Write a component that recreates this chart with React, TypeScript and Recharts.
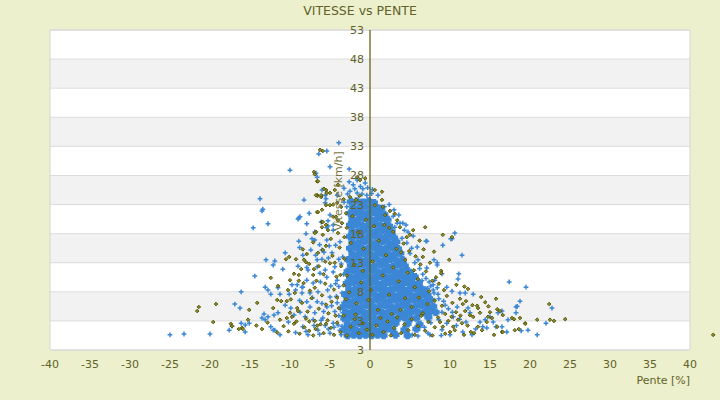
import { ScatterChart, Scatter, XAxis, YAxis, CartesianGrid, ReferenceLine, ReferenceArea } from 'recharts'

const W = 720
const H = 400
const MARGIN = { top: 30, right: 30, bottom: 16, left: 49 }
const PLOT_LEFT = 50
const ZERO_X = PLOT_LEFT + (W - PLOT_LEFT - MARGIN.right) / 2

const BG = '#ecf0cd'
const TEXT = '#616128'
const BLUE = '#3b87d6'
const OLIVE = '#55550a'

const X_TICKS = [-40, -35, -30, -25, -20, -15, -10, -5, 0, 5, 10, 15, 20, 25, 30, 35, 40]
const Y_TICKS = [-2, 3, 8, 13, 18, 23, 28, 33, 38, 43, 48, 53]
const Y_TICK_LABELS = ['3', '3', '8', '13', '18', '23', '28', '33', '38', '43', '48', '53']

// dense blue mass around 0 % (rows)
const blueCore: [number, number][] = [
  [-2.4, 23.5], [-1.65, 23.6], [-0.9, 23.4], [-0.15, 23.6], [0.5, 23.3],
  [-2.1, 22.5], [-1.35, 22.4], [-0.6, 22.6], [0.15, 22.5], [0.9, 22.4], [1.4, 22.3],
  [-2.5, 21.5], [-1.75, 21.6], [-1.0, 21.4], [-0.25, 21.5], [0.5, 21.6], [1.25, 21.4], [1.8, 21.3],
  [-2.2, 20.5], [-1.45, 20.4], [-0.7, 20.6], [0.05, 20.5], [0.8, 20.4], [1.55, 20.6], [2.2, 20.4],
  [-2.5, 19.5], [-1.75, 19.6], [-1.0, 19.4], [-0.25, 19.5], [0.5, 19.6], [1.25, 19.4], [2.0, 19.5], [2.4, 19.3],
  [-2.2, 18.5], [-1.45, 18.4], [-0.7, 18.6], [0.05, 18.5], [0.8, 18.4], [1.55, 18.6], [2.3, 18.5], [2.7, 18.3],
  [-2.5, 17.5], [-1.75, 17.6], [-1.0, 17.4], [-0.25, 17.5], [0.5, 17.6], [1.25, 17.4], [2.0, 17.5], [2.75, 17.6], [3.0, 17.3],
  [-2.2, 16.5], [-1.45, 16.4], [-0.7, 16.6], [0.05, 16.5], [0.8, 16.4], [1.55, 16.6], [2.3, 16.5], [3.05, 16.4], [3.3, 16.6],
  [-2.5, 15.5], [-1.75, 15.6], [-1.0, 15.4], [-0.25, 15.5], [0.5, 15.6], [1.25, 15.4], [2.0, 15.5], [2.75, 15.6], [3.5, 15.4],
  [-2.2, 14.5], [-1.45, 14.4], [-0.7, 14.6], [0.05, 14.5], [0.8, 14.4], [1.55, 14.6], [2.3, 14.5], [3.05, 14.4], [3.8, 14.6],
  [-2.7, 13.5], [-1.95, 13.6], [-1.2, 13.4], [-0.45, 13.5], [0.3, 13.6], [1.05, 13.4], [1.8, 13.5], [2.55, 13.6], [3.3, 13.4], [4.05, 13.5],
  [-2.4, 12.5], [-1.65, 12.4], [-0.9, 12.6], [-0.15, 12.5], [0.6, 12.4], [1.35, 12.6], [2.1, 12.5], [2.85, 12.4], [3.6, 12.6], [4.35, 12.5],
  [-2.8, 11.5], [-2.05, 11.6], [-1.3, 11.4], [-0.55, 11.5], [0.2, 11.6], [0.95, 11.4], [1.7, 11.5], [2.45, 11.6], [3.2, 11.4], [3.95, 11.5], [4.7, 11.6], [5.0, 11.3],
  [-2.5, 10.5], [-1.75, 10.4], [-1.0, 10.6], [-0.25, 10.5], [0.5, 10.4], [1.25, 10.6], [2.0, 10.5], [2.75, 10.4], [3.5, 10.6], [4.25, 10.5], [5.0, 10.4], [5.6, 10.6],
  [-2.9, 9.5], [-2.15, 9.6], [-1.4, 9.4], [-0.65, 9.5], [0.1, 9.6], [0.85, 9.4], [1.6, 9.5], [2.35, 9.6], [3.1, 9.4], [3.85, 9.5], [4.6, 9.6], [5.35, 9.4], [6.1, 9.5],
  [-2.6, 8.5], [-1.85, 8.4], [-1.1, 8.6], [-0.35, 8.5], [0.4, 8.4], [1.15, 8.6], [1.9, 8.5], [2.65, 8.4], [3.4, 8.6], [4.15, 8.5], [4.9, 8.4], [5.65, 8.6], [6.4, 8.5], [6.8, 8.3],
  [-3.1, 7.5], [-2.35, 7.6], [-1.6, 7.4], [-0.85, 7.5], [-0.1, 7.6], [0.65, 7.4], [1.4, 7.5], [2.15, 7.6], [2.9, 7.4], [3.65, 7.5], [4.4, 7.6], [5.15, 7.4], [5.9, 7.5], [6.65, 7.6], [7.2, 7.4],
  [-2.8, 6.5], [-2.05, 6.4], [-1.3, 6.6], [-0.55, 6.5], [0.2, 6.4], [0.95, 6.6], [1.7, 6.5], [2.45, 6.4], [3.2, 6.6], [3.95, 6.5], [4.7, 6.4], [5.45, 6.6], [6.2, 6.5], [6.95, 6.4], [7.6, 6.6],
  [-3.3, 5.5], [-2.55, 5.6], [-1.8, 5.4], [-1.05, 5.5], [-0.3, 5.6], [0.45, 5.4], [1.2, 5.5], [1.95, 5.6], [2.7, 5.4], [3.45, 5.5], [4.2, 5.6], [4.95, 5.4], [5.7, 5.5], [6.45, 5.6], [7.2, 5.4], [7.9, 5.5],
  [-3.0, 4.5], [-2.25, 4.4], [-1.5, 4.6], [-0.75, 4.5], [0.0, 4.4], [0.75, 4.6], [1.5, 4.5], [2.25, 4.4], [3.0, 4.6], [3.75, 4.5], [4.5, 4.4], [5.25, 4.6], [6.0, 4.5], [6.75, 4.4], [7.5, 4.6], [8.2, 4.5],
  [-3.2, 3.5], [-2.45, 3.6], [-1.7, 3.4], [-0.95, 3.5], [-0.2, 3.6], [0.55, 3.4], [1.3, 3.5], [2.05, 3.6], [2.8, 3.4], [3.55, 3.5], [4.3, 3.6], [5.05, 3.4], [5.8, 3.5], [7.3, 3.6],
  [-2.8, 2.5], [-2.05, 2.4], [-1.3, 2.6], [-0.55, 2.5], [0.2, 2.4], [0.95, 2.6], [1.7, 2.5], [2.45, 2.4], [3.2, 2.6], [4.7, 2.5], [6.2, 2.4],
  [-3.2, 1.5], [-2.45, 1.6], [-1.7, 1.4], [-0.95, 1.5], [-0.2, 1.6], [0.55, 1.4], [1.3, 1.5], [2.05, 1.6], [2.8, 1.4], [4.3, 1.5], [5.8, 1.6],
  [-2.8, 0.5], [-2.05, 0.6], [-1.3, 0.5], [-0.55, 0.6], [0.2, 0.5], [0.95, 0.6], [1.7, 0.5], [3.2, 0.6], [4.7, 0.5],
]

const blueLeft: [number, number][] = [
  [-13.75, 24.0], [-13.4, 22.2], [-13.5, 21.9], [-12.75, 19.7], [-14.6, 19.0], [-8.25, 23.8], [-7.6, 21.5],
  [-8.9, 20.7], [-9.0, 20.5], [-7.9, 19.7], [-8.0, 18.0], [-8.9, 16.7], [-7.25, 17.1], [-6.9, 18.3],
  [-10.6, 14.7], [-8.4, 14.3], [-13.0, 13.5], [-11.9, 13.3], [-12.1, 12.6], [-10.9, 11.9], [-9.0, 12.4],
  [-7.75, 11.75], [-14.4, 10.7], [-13.1, 8.8], [-12.75, 8.3], [-12.4, 7.6], [-11.25, 7.6], [-9.75, 9.2],
  [-16.1, 8.0], [-16.9, 5.9], [-16.25, 5.2], [-10.6, 5.7], [-13.25, 4.2], [-12.75, 3.7], [-12.0, 4.0],
  [-11.5, 4.4], [-16.1, 2.6], [-15.6, 2.3], [-15.1, 2.6], [-17.6, 1.4], [-15.6, 1.1], [-20.0, 0.75],
  [-23.25, 0.75], [-25.0, 0.6], [-17.25, 2.1], [-12.4, 2.0], [-11.9, 1.4], [-11.25, 0.6], [-13.1, 3.2],
  [-7.9, 10.0], [-8.4, 8.8], [-6.6, 13.5], [-6.6, 12.3], [-6.0, 13.6], [-5.75, 14.8], [-5.4, 16.9],
  [-5.5, 24.0], [-5.6, 23.3], [-5.0, 21.2], [-4.6, 18.6], [-5.25, 19.3], [-11.5, 8.7], [-10.1, 7.6],
  [-9.1, 9.2], [-8.5, 7.8], [-13.5, 3.5], [-12.1, 1.4], [-8.1, 3.7], [-7.5, 5.4], [-6.6, 6.3], [-8.75, 4.5],
  [-6.75, 28.4], [-6.6, 27.7], [-6.1, 20.0], [-6.9, 16.9], [-5.4, 19.0], [-4.6, 19.5], [-6.0, 15.2],
  [-4.75, 14.7], [-3.75, 16.6], [-3.4, 14.0], [-4.4, 12.3], [-5.6, 11.75], [-6.25, 11.2], [-7.1, 9.5],
  [-5.4, 10.5], [-4.1, 10.0], [-8.5, 8.8], [-7.5, 7.8], [-6.5, 8.0], [-5.0, 7.1], [-3.5, 7.8], [-7.9, 6.3],
  [-5.4, 5.4], [-4.1, 6.1], [-7.1, 3.2], [-5.9, 3.5], [-4.6, 2.6], [-3.4, 3.2], [-8.4, 2.0],
  [-6.5, 1.4], [-5.0, 0.9], [-3.75, 1.4], [-7.75, 0.6], [-9.3, 1.0], [-10.2, 2.8], [-6.9, 4.4],
  [-4.4, 4.6], [-3.7, 5.0], [-3.9, 8.9], [-3.3, 11.0], [-3.6, 12.8], [-4.9, 9.0], [-6.2, 9.7],
  [-4.2, 7.2], [-3.9, 3.9], [-4.5, 1.9], [-5.6, 2.2], [-6.3, 0.7], [-3.6, 0.6], [-4.8, 5.6], [-5.8, 4.6],
  [-8.8, 15.6], [-7.4, 15.2], [-6.3, 16.1], [-5.1, 15.9], [-4.3, 16.0], [-3.9, 13.6], [-4.6, 11.4],
  [-5.2, 13.8], [-6.8, 14.3], [-7.9, 12.2], [-7.2, 7.0], [-6.0, 6.0], [-5.3, 8.3], [-4.3, 9.4],
  [-3.3, 6.2], [-3.4, 4.4], [-5.2, 1.6], [-6.1, 3.1], [-7.0, 2.2], [-8.0, 1.2], [-9.5, 4.0], [-9.9, 5.2],
  [-8.8, 6.5], [-9.3, 8.3], [-4.0, 2.3], [-3.5, 2.1],
]

const blueTop: [number, number][] = [
  [-3.9, 33.6], [-5.4, 32.2], [-6.4, 31.7], [-10.0, 28.9], [-5.0, 29.5], [-8.75, 20.9], [-2.6, 29.1],
  [-2.6, 26.9], [-0.6, 26.7], [-0.9, 25.7], [-1.6, 27.2], [-2.1, 26.4], [-3.25, 25.8], [-2.5, 25.3],
  [-1.6, 25.0], [-4.1, 24.6], [1.5, 21.4], [2.9, 21.0], [2.25, 19.8], [3.4, 19.8], [3.1, 19.1],
  [-5.25, 20.2], [-3.25, 23.4], [-2.9, 22.6], [-5.6, 24.6], [-6.0, 25.5], [-0.4, 24.6], [0.3, 25.6],
  [1.0, 24.6], [2.4, 23.0], [1.8, 22.6], [3.0, 22.1], [3.6, 21.2], [4.5, 19.5], [5.4, 17.6],
  [-1.2, 26.1], [-0.3, 25.9], [-1.9, 25.7], [0.2, 24.9], [-2.8, 24.8], [-1.0, 24.8],
]

const blueRight: [number, number][] = [
  [10.6, 18.1], [10.1, 17.1], [7.0, 16.7], [9.1, 16.0], [11.5, 14.3], [8.4, 13.0], [8.4, 12.6],
  [8.0, 13.5], [7.1, 12.1], [11.1, 11.1], [11.0, 10.2], [9.0, 11.1], [8.1, 10.0], [7.4, 9.7],
  [17.4, 9.7], [19.5, 8.8], [7.6, 9.0], [7.9, 8.3], [8.4, 8.7], [9.6, 8.8], [10.25, 8.1], [12.9, 7.6],
  [11.9, 7.8], [18.75, 6.4], [18.25, 5.4], [18.4, 5.5], [22.75, 5.2], [16.5, 4.7], [16.0, 4.4],
  [18.25, 4.4], [17.25, 3.2], [17.1, 1.1], [22.0, 2.6], [20.9, 0.6], [19.75, 1.4], [18.9, 1.3],
  [15.4, 2.8], [15.75, 2.0], [13.75, 2.8], [14.4, 3.2], [12.75, 0.6], [11.6, 1.1], [10.4, 3.7],
  [10.9, 5.4], [9.4, 5.7], [9.0, 4.5], [7.5, 0.6], [7.25, 0.9], [12.25, 5.2], [12.5, 4.4], [14.1, 2.0],
  [14.6, 1.8], [16.5, 2.0], [15.0, 3.7], [3.75, 19.8], [4.1, 19.8], [4.75, 18.3], [5.2, 15.5],
  [5.9, 15.7], [7.1, 16.7], [10.25, 17.1], [6.0, 13.5], [5.6, 10.7], [5.0, 9.2], [7.9, 9.2],
  [11.25, 7.8], [8.5, 7.6], [7.5, 7.1], [4.3, 18.6], [4.0, 17.2], [4.6, 16.4], [5.0, 14.6], [5.6, 13.0],
  [6.2, 12.0], [6.6, 11.0], [7.0, 10.3], [6.5, 9.9], [7.2, 8.6], [8.0, 7.8], [8.6, 6.8], [9.2, 6.4],
  [9.8, 5.1], [10.3, 4.5], [11.2, 3.3], [9.6, 2.6], [10.8, 2.2], [12.0, 2.8], [13.2, 1.6], [9.0, 1.5],
  [10.0, 0.6], [8.6, 3.2], [8.9, 0.5], [6.8, 1.9], [7.6, 2.7], [5.3, 0.6], [6.0, 0.4],
]

const oliveLeft: [number, number][] = [
  [-21.6, 4.7], [-21.4, 5.4], [-19.25, 5.9], [-19.6, 2.8], [-17.4, 2.5], [-17.25, 2.1], [-16.4, 1.6],
  [-16.0, 1.8], [-15.9, 1.6], [-15.1, 4.9], [-15.25, 3.2], [-14.1, 6.1], [-12.4, 10.4], [-11.5, 9.0],
  [-10.25, 8.3], [-10.0, 10.0], [-11.6, 6.6], [-11.1, 6.4], [-10.4, 6.4], [-12.1, 5.2], [-9.4, 7.8],
  [-10.5, 13.6], [-10.1, 14.0], [-9.25, 13.6], [-7.9, 14.5], [-8.25, 13.5], [-8.0, 13.1], [-7.6, 12.8],
  [-7.0, 11.9], [-7.1, 10.9], [-8.9, 10.9], [-10.0, 4.4], [-9.75, 3.7], [-9.1, 5.2], [-9.0, 4.7],
  [-10.4, 3.5], [-11.25, 3.2], [-6.6, 24.6], [-6.1, 24.3], [-6.6, 27.0], [-6.0, 20.0], [-6.75, 18.3],
  [-6.5, 14.7], [-5.9, 15.2], [-5.5, 15.9], [-6.6, 21.7], [-6.9, 18.1],
  [-8.5, 6.1], [-7.8, 4.6], [-7.3, 6.9], [-6.9, 8.7], [-6.4, 5.1], [-6.0, 7.4], [-5.6, 9.4], [-5.2, 4.3],
  [-4.8, 6.3], [-4.5, 8.4], [-4.2, 10.6], [-3.9, 5.2], [-3.6, 12.4], [-3.3, 9.1], [-3.0, 6.7], [-5.0, 12.9],
  [-5.8, 11.0], [-6.7, 9.9], [-7.5, 8.2], [-8.3, 9.5], [-4.7, 14.2], [-3.8, 15.6], [-3.2, 17.4],
  [-4.0, 18.1], [-3.5, 19.8], [-3.0, 21.5], [-3.6, 22.6], [-4.9, 17.1], [-8.6, 11.9], [-9.5, 11.1],
  [-9.9, 6.7], [-8.0, 3.4], [-6.9, 3.0], [-5.5, 2.5], [-4.3, 3.9],
  [-8.4, 15.3], [-7.1, 16.5], [-5.6, 13.2], [-4.4, 13.0], [-3.7, 10.9], [-4.1, 7.0], [-5.5, 5.8],
  [-6.6, 2.2], [-7.6, 1.3], [-9.2, 2.9], [-8.9, 9.9], [-6.4, 12.4], [-3.2, 13.7], [-2.9, 19.0], [-3.3, 23.9],
]

const oliveTop: [number, number][] = [
  [-6.25, 32.4], [-5.9, 32.2], [-7.0, 28.6], [-6.9, 28.2], [-6.5, 27.0], [-6.6, 24.5], [-6.1, 24.6],
  [-5.5, 25.5], [-5.4, 25.0], [-0.6, 27.5], [0.6, 25.5], [1.5, 23.8], [1.6, 22.6], [1.9, 21.2],
  [2.4, 19.0], [2.9, 18.3], [-5.5, 22.9], [-5.0, 22.9], [-4.4, 25.5], [-4.0, 26.4], [-2.5, 24.3],
  [-1.75, 23.8], [-4.1, 23.3], [-5.9, 20.0], [-6.0, 19.1], [-6.5, 21.7], [-4.6, 20.9], [-5.75, 25.7],
  [-5.0, 25.0], [-6.75, 24.6], [-6.0, 22.1], [-4.6, 23.0], [-4.25, 20.9], [-4.0, 20.3], [-5.5, 19.5],
  [-5.25, 18.6], [-5.9, 17.8], [-1.6, 27.7], [-1.25, 27.2], [1.5, 25.2], [5.0, 17.8], [4.6, 17.4],
  [3.4, 20.3], [3.75, 19.1], [3.1, 21.4], [2.5, 21.9], [10.25, 17.4],
]

const oliveRight: [number, number][] = [
  [6.9, 19.1], [9.1, 17.8], [9.9, 13.5], [6.6, 14.0], [8.9, 11.6], [8.9, 11.2], [7.5, 13.0], [8.25, 10.5],
  [12.25, 8.5], [9.25, 8.3], [11.25, 6.8], [11.6, 5.9], [12.0, 6.4], [14.4, 6.2], [15.75, 6.8],
  [13.4, 5.6], [13.5, 5.2], [15.9, 5.0], [16.25, 4.7], [16.6, 4.0], [15.0, 4.5], [14.75, 3.7],
  [15.25, 3.5], [12.5, 4.0], [12.9, 3.7], [11.0, 3.2], [11.5, 2.6], [17.75, 3.5], [18.0, 3.3],
  [18.75, 3.5], [19.4, 2.6], [19.4, 2.5], [20.9, 3.2], [22.4, 5.9], [22.5, 3.2], [23.0, 3.0],
  [24.4, 3.3], [18.6, 1.6], [18.1, 1.4], [16.5, 1.1], [16.6, 1.1], [15.5, 0.6], [13.5, 2.0],
  [14.0, 1.4], [12.6, 1.1], [11.75, 0.6], [10.4, 2.0], [10.0, 1.1], [8.75, 2.8], [9.1, 2.0],
  [15.9, 2.0], [14.6, 2.8], [13.75, 4.4], [10.75, 4.5], [42.9, 0.6],
  [4.2, 16.3], [4.9, 15.0], [5.7, 14.1], [6.3, 12.7], [7.0, 11.5], [7.8, 9.9], [8.6, 9.4], [9.6, 7.3],
  [10.3, 6.1], [9.0, 5.6], [8.1, 6.5], [7.4, 8.1], [6.0, 10.2], [5.5, 11.7], [4.4, 13.5], [3.9, 14.8],
  [6.7, 15.3], [8.0, 14.9], [5.4, 18.6], [6.2, 16.8], [10.8, 9.2], [11.8, 8.9], [12.8, 5.7], [13.9, 7.1],
  [14.8, 5.5], [10.2, 3.7], [11.9, 4.7], [9.4, 4.2],
]

const oliveBottom: [number, number][] = [
  [-8.8, 0.8], [-8.2, 1.9], [-7.6, 2.9], [-7.1, 0.5], [-6.8, 1.6], [-6.2, 2.4], [-5.8, 0.9], [-5.3, 3.1],
  [-4.9, 1.8], [-4.5, 0.6], [-4.1, 2.7], [-3.7, 1.1], [-3.3, 3.9], [-2.9, 0.5], [-2.4, 2.0], [-1.9, 3.3],
  [-1.4, 0.9], [-0.9, 2.6], [-0.4, 1.5], [0.3, 0.6], [0.8, 2.2], [1.3, 3.5], [1.7, 1.1], [2.2, 2.9],
  [2.6, 0.5], [3.0, 1.8], [3.4, 3.6], [3.9, 0.9], [4.3, 2.4], [4.8, 1.4], [5.2, 3.3], [5.6, 0.6],
  [6.0, 2.1], [6.4, 3.9], [6.9, 1.3], [7.3, 2.8], [7.8, 0.5], [8.1, 1.9], [8.5, 3.6], [9.4, 0.8],
  [9.8, 3.0], [10.6, 1.4], [11.3, 3.9], [12.2, 2.2], [13.0, 0.9], [-9.5, 2.5], [-10.2, 1.2],
  [-10.8, 2.1], [-11.6, 1.0], [-12.8, 2.7], [-13.5, 1.6], [-14.2, 2.2],
]

// olive specks sitting on top of the blue mass
const oliveCore: [number, number][] = [
  [-2.2, 21.0], [-1.5, 18.2], [-0.8, 15.4], [-2.0, 12.7], [-1.1, 9.6], [-0.2, 6.6], [0.5, 19.3],
  [1.1, 16.8], [0.3, 13.2], [1.6, 10.8], [2.4, 7.5], [1.0, 4.9], [-1.8, 4.1], [-2.6, 7.9], [2.0, 14.3],
  [2.9, 12.2], [3.6, 9.8], [4.4, 6.9], [5.2, 5.4], [6.1, 7.0], [6.6, 4.3], [3.8, 4.9], [0.6, 22.9],
  [-0.5, 20.4], [-1.3, 24.5], [-2.4, 16.4], [1.8, 19.5], [3.3, 15.4], [4.7, 11.3], [5.6, 8.8],
  [7.2, 5.9], [-0.9, 11.6], [0.1, 8.3], [-1.7, 6.0], [2.7, 4.2], [-2.9, 10.8],
]

const toPoints = (arr: [number, number][]) => arr.map(([x, y]) => ({ x, y }))

const blueCorePts = toPoints(blueCore)
const bluePts = toPoints([...blueLeft, ...blueTop, ...blueRight])
const olivePts = toPoints([...oliveLeft, ...oliveTop, ...oliveRight, ...oliveBottom, ...oliveCore])

function BigPlus(props: any) {
  const { cx, cy } = props
  if (cx == null || cy == null) return null
  return <path d={`M${cx - 4},${cy}H${cx + 4}M${cx},${cy - 3.8}V${cy + 3.8}`} stroke={BLUE} strokeWidth={4.4} />
}

function Plus(props: any) {
  const { cx, cy } = props
  if (cx == null || cy == null) return null
  return <path d={`M${cx - 2.4},${cy}H${cx + 2.4}M${cx},${cy - 2.4}V${cy + 2.4}`} stroke={BLUE} strokeWidth={1.5} />
}

function Diamond(props: any) {
  const { cx, cy } = props
  if (cx == null || cy == null) return null
  const r = 1.8
  return (
    <path
      d={`M${cx},${cy - r}L${cx + r},${cy}L${cx},${cy + r}L${cx - r},${cy}Z`}
      fill="#8e8e2c"
      stroke={OLIVE}
      strokeWidth={1}
    />
  )
}

function YTick(props: any) {
  const { y, payload } = props
  const label = Y_TICK_LABELS[Y_TICKS.indexOf(payload.value)]
  return (
    <text x={ZERO_X - 6} y={y} dy={4} textAnchor="end" fill={TEXT} fontSize={11}>
      {label}
    </text>
  )
}

export default function App() {
  return (
    <div style={{ position: 'absolute', left: 0, top: 0, width: W, height: H, background: BG, fontFamily: '"DejaVu Sans", sans-serif' }}>
      <style>{'.no-clip { clip-path: none !important; }'}</style>
      <svg width={W} height={30} style={{ position: 'absolute', left: 0, top: 0 }}>
        <text x={W / 2} y={15} textAnchor="middle" fill={TEXT} fontSize={12.5}>
          VITESSE vs PENTE
        </text>
      </svg>
      <ScatterChart width={W} height={H} margin={MARGIN}>
        <CartesianGrid vertical={false} stroke="#dcdcdc" horizontalFill={['#ffffff', '#f2f2f2']} />
        <ReferenceArea x1={-40} x2={40} y1={-2} y2={53} fill="none" stroke="#d6d6d6" />
        <XAxis
          type="number"
          dataKey="x"
          domain={[-40, 40]}
          allowDataOverflow
          ticks={X_TICKS}
          interval={0}
          height={34}
          axisLine={false}
          tickLine={false}
          tickMargin={4}
          tick={{ fill: TEXT, fontSize: 11 }}
          label={() => (
            <text x={W - MARGIN.right} y={384} textAnchor="end" fill={TEXT} fontSize={11}>
              Pente [%]
            </text>
          )}
        />
        <Scatter data={blueCorePts} shape={BigPlus} isAnimationActive={false} className="no-clip" />
        <Scatter data={bluePts} shape={Plus} isAnimationActive={false} className="no-clip" />
        <Scatter data={olivePts} shape={Diamond} isAnimationActive={false} className="no-clip" />
        <ReferenceLine x={0} stroke="#5a5a08" strokeWidth={1.2} zIndex={1500} />
        <YAxis
          type="number"
          dataKey="y"
          domain={[-2, 53]}
          ticks={Y_TICKS}
          interval={0}
          width={1}
          axisLine={false}
          tickLine={false}
          tick={YTick}
          zIndex={1600}
          label={() => (
            <text
              transform={`translate(${ZERO_X - 32},191) rotate(-90)`}
              textAnchor="middle"
              dominantBaseline="central"
              fill="#74743c"
              fontSize={11}
            >
              Vitesse [km/h]
            </text>
          )}
        />
      </ScatterChart>
    </div>
  )
}
